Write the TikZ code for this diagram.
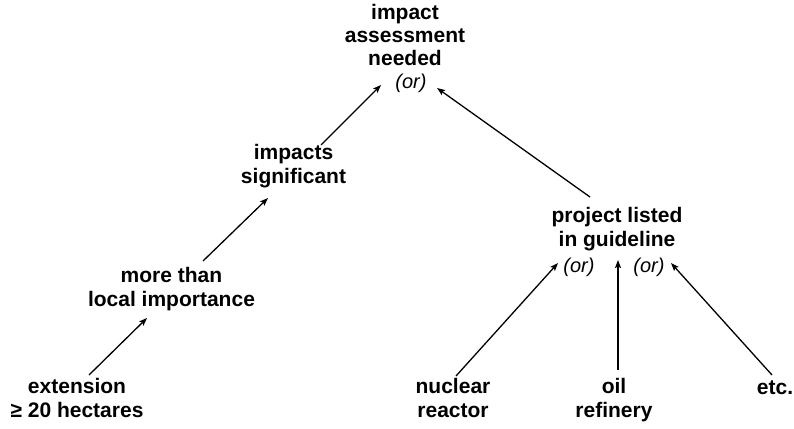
\documentclass[tikz,border=0pt]{standalone}
\usepackage{fontspec}
\setmainfont{Liberation Sans}
\usetikzlibrary{arrows.meta}
\begin{document}
\begin{tikzpicture}[x=1pt,y=-1pt,
  lbl/.style={anchor=base,align=center,inner sep=0pt,
    font=\fontsize{21}{24}\selectfont\bfseries},
  orlbl/.style={anchor=base,inner sep=0pt,
    font=\fontsize{20}{24}\selectfont\itshape},
  arr/.style={line width=1.3pt,-{Stealth[length=8pt,width=6pt,inset=1.5pt]}}]
\useasboundingbox (0,0) rectangle (794,428);

% decision nodes, placed by the baseline of their last line
\node[lbl,font=\fontsize{21}{23}\selectfont\bfseries] (top) at (405,66) {impact\\assessment\\needed};
\node[orlbl] (topor) at (411,88) {(or)};
\node[lbl] (sig) at (293.5,183) {impacts\\significant};
\node[lbl] (more) at (171.5,306) {more than\\local importance};
\node[lbl] (ext) at (77,417) {extension\\≥ 20 hectares};
\node[lbl] (proj) at (617,246) {project listed\\in guideline};
\node[orlbl] (projorA) at (579,272) {(or)};
\node[orlbl] (projorB) at (649,272) {(or)};
\node[lbl] (nuc) at (453,417) {nuclear\\reactor};
\node[lbl] (oil) at (614,417) {oil\\refinery};
\node[lbl] (etc) at (775,394) {etc.};

% left chain
\draw[arr] ([shift={(12,-42)}]ext.base) -- ([shift={(-24.5,12)}]more.base);
\draw[arr] ([shift={(31.5,-45)}]more.base) -- ([shift={(-25.5,15)}]sig.base);
\draw[arr] ([shift={(27.5,-38)}]sig.base) -- ([shift={(-24,19)}]top.base);
% right branch
\draw[arr] ([shift={(-27,-49)}]proj.base) -- ([shift={(32,22)}]top.base);
\draw[arr] ([shift={(3,-41)}]nuc.base) -- ([shift={(-59,17)}]proj.base);
\draw[arr] ([shift={(4,-47)}]oil.base) -- ([shift={(1,14)}]proj.base);
\draw[arr] ([shift={(-3,-19)}]etc.base) -- ([shift={(54,17)}]proj.base);
\end{tikzpicture}
\end{document}
